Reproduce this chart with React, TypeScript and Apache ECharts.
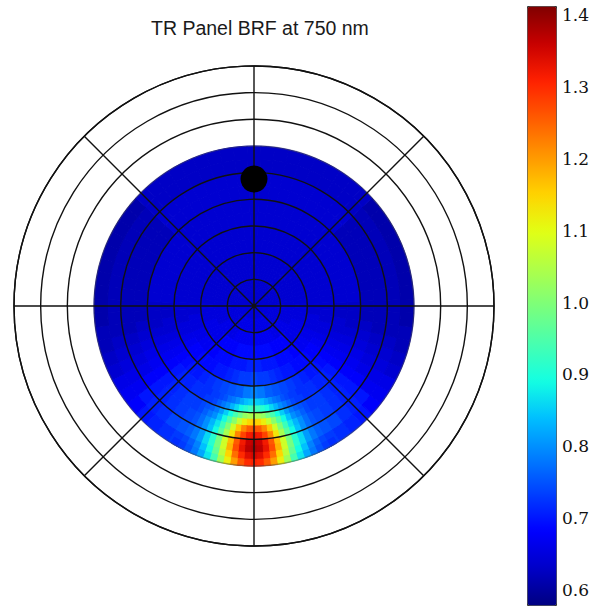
import React, { useEffect, useRef } from "react";
import * as echarts from "echarts";

// Zenith angle (deg) of each ring of cells, 5-degree bins, 0..60
const ZENITH = [2.5, 7.5, 12.5, 17.5, 22.5, 27.5, 32.5, 37.5, 42.5, 47.5, 52.5, 57.5];

// Relative azimuth from the hotspot direction (180 deg = opposite the sun), 5-degree steps.
const REL_AZIMUTH = [
  0, 5, 10, 15, 20, 25, 30, 35, 40, 45, 50, 55, 60, 65, 70, 75, 80, 85, 90,
  95, 100, 105, 110, 115, 120, 125, 130, 135, 140, 145, 150, 155, 160, 165, 170, 175, 180,
];

// BRF values per zenith ring, one value per relative azimuth above
const z02 = [0.65, 0.65, 0.65, 0.65, 0.65, 0.65, 0.65, 0.65, 0.65, 0.65, 0.65, 0.65, 0.65, 0.65, 0.65, 0.65, 0.65, 0.65, 0.65,
  0.64, 0.64, 0.64, 0.64, 0.64, 0.64, 0.64, 0.64, 0.64, 0.64, 0.64, 0.64, 0.64, 0.64, 0.64, 0.64, 0.64, 0.64];
const z07 = [0.66, 0.66, 0.66, 0.66, 0.66, 0.66, 0.66, 0.66, 0.66, 0.65, 0.65, 0.65, 0.65, 0.65, 0.65, 0.65, 0.65, 0.65, 0.65,
  0.64, 0.64, 0.64, 0.64, 0.64, 0.64, 0.64, 0.64, 0.64, 0.64, 0.64, 0.64, 0.64, 0.64, 0.64, 0.64, 0.64, 0.64];
const z12 = [0.67, 0.67, 0.67, 0.67, 0.67, 0.67, 0.67, 0.66, 0.66, 0.66, 0.66, 0.66, 0.66, 0.65, 0.65, 0.65, 0.65, 0.65, 0.65,
  0.64, 0.64, 0.64, 0.64, 0.64, 0.64, 0.64, 0.64, 0.64, 0.64, 0.64, 0.64, 0.64, 0.64, 0.64, 0.64, 0.64, 0.64];
const z17 = [0.69, 0.69, 0.69, 0.69, 0.69, 0.68, 0.68, 0.68, 0.68, 0.68, 0.66, 0.66, 0.66, 0.66, 0.66, 0.65, 0.65, 0.65, 0.65,
  0.64, 0.64, 0.64, 0.64, 0.64, 0.64, 0.64, 0.64, 0.64, 0.64, 0.64, 0.64, 0.64, 0.64, 0.64, 0.64, 0.64, 0.64];
const z22 = [0.71, 0.71, 0.70, 0.70, 0.70, 0.69, 0.69, 0.69, 0.68, 0.68, 0.67, 0.67, 0.66, 0.66, 0.65, 0.65, 0.65, 0.64, 0.64,
  0.64, 0.64, 0.64, 0.64, 0.64, 0.64, 0.64, 0.64, 0.64, 0.64, 0.64, 0.64, 0.64, 0.64, 0.64, 0.64, 0.64, 0.64];
const z27 = [0.74, 0.73, 0.73, 0.72, 0.71, 0.70, 0.70, 0.69, 0.69, 0.69, 0.68, 0.68, 0.67, 0.66, 0.65, 0.65, 0.64, 0.64, 0.64,
  0.64, 0.64, 0.64, 0.64, 0.64, 0.64, 0.64, 0.64, 0.64, 0.64, 0.64, 0.64, 0.64, 0.64, 0.64, 0.64, 0.64, 0.64];
const z32 = [0.79, 0.78, 0.76, 0.75, 0.74, 0.73, 0.72, 0.71, 0.70, 0.70, 0.69, 0.68, 0.67, 0.66, 0.65, 0.64, 0.64, 0.63, 0.63,
  0.64, 0.64, 0.64, 0.64, 0.64, 0.64, 0.64, 0.64, 0.64, 0.64, 0.64, 0.64, 0.64, 0.64, 0.64, 0.64, 0.64, 0.64];
const z37 = [0.88, 0.86, 0.82, 0.78, 0.75, 0.73, 0.72, 0.72, 0.71, 0.71, 0.70, 0.68, 0.67, 0.66, 0.65, 0.64, 0.63, 0.63, 0.63,
  0.64, 0.64, 0.64, 0.64, 0.64, 0.64, 0.64, 0.64, 0.64, 0.64, 0.64, 0.64, 0.64, 0.64, 0.64, 0.64, 0.64, 0.64];
const z42 = [1.07, 1.03, 0.95, 0.86, 0.80, 0.76, 0.73, 0.73, 0.72, 0.71, 0.70, 0.68, 0.67, 0.66, 0.65, 0.64, 0.63, 0.62, 0.62,
  0.62, 0.62, 0.62, 0.62, 0.62, 0.62, 0.62, 0.62, 0.64, 0.64, 0.64, 0.64, 0.64, 0.64, 0.64, 0.64, 0.64, 0.64];
const z47 = [1.29, 1.24, 1.11, 0.95, 0.84, 0.78, 0.74, 0.73, 0.72, 0.71, 0.70, 0.68, 0.66, 0.65, 0.64, 0.63, 0.62, 0.62, 0.62,
  0.62, 0.62, 0.62, 0.62, 0.62, 0.62, 0.62, 0.62, 0.64, 0.64, 0.64, 0.64, 0.64, 0.64, 0.64, 0.64, 0.64, 0.64];
const z52 = [1.37, 1.32, 1.16, 0.97, 0.85, 0.79, 0.75, 0.74, 0.72, 0.71, 0.70, 0.67, 0.66, 0.65, 0.64, 0.63, 0.62, 0.62, 0.62,
  0.62, 0.62, 0.62, 0.62, 0.62, 0.62, 0.62, 0.62, 0.63, 0.63, 0.63, 0.63, 0.63, 0.63, 0.63, 0.63, 0.63, 0.63];
const z57 = [1.32, 1.27, 1.12, 0.93, 0.81, 0.76, 0.73, 0.72, 0.71, 0.70, 0.68, 0.67, 0.66, 0.64, 0.63, 0.62, 0.62, 0.61, 0.61,
  0.61, 0.61, 0.61, 0.61, 0.61, 0.61, 0.61, 0.61, 0.63, 0.63, 0.63, 0.63, 0.63, 0.63, 0.63, 0.63, 0.63, 0.63];

const BRF_ROWS = [z02, z07, z12, z17, z22, z27, z32, z37, z42, z47, z52, z57];

// Finer reading of the hotspot region (2.5-degree cells), zenith 35..60, relative azimuth 0..30
const HOT_ZENITH = [36.25, 38.75, 41.25, 43.75, 46.25, 48.75, 51.25, 53.75, 56.25, 58.75];
const HOT_REL_AZIMUTH = [0, 2.5, 5, 7.5, 10, 12.5, 15, 17.5, 20, 22.5, 25, 27.5, 30];
const h36 = [0.86, 0.85, 0.84, 0.82, 0.80, 0.78, 0.77, 0.75, 0.74, 0.73, 0.73, 0.72, 0.72];
const h38 = [0.94, 0.93, 0.91, 0.89, 0.86, 0.83, 0.80, 0.78, 0.76, 0.74, 0.73, 0.73, 0.72];
const h41 = [1.05, 1.04, 1.02, 0.98, 0.94, 0.89, 0.85, 0.81, 0.78, 0.76, 0.75, 0.74, 0.73];
const h43 = [1.16, 1.15, 1.12, 1.07, 1.01, 0.95, 0.89, 0.84, 0.80, 0.78, 0.76, 0.74, 0.73];
const h46 = [1.27, 1.26, 1.22, 1.16, 1.08, 1.00, 0.93, 0.87, 0.83, 0.80, 0.77, 0.75, 0.74];
const h48 = [1.33, 1.32, 1.28, 1.22, 1.13, 1.04, 0.96, 0.89, 0.84, 0.80, 0.77, 0.75, 0.74];
const h51 = [1.37, 1.36, 1.32, 1.26, 1.17, 1.08, 0.99, 0.91, 0.86, 0.81, 0.78, 0.76, 0.75];
const h53 = [1.38, 1.37, 1.33, 1.27, 1.18, 1.08, 0.99, 0.91, 0.86, 0.81, 0.78, 0.76, 0.75];
const h56 = [1.35, 1.34, 1.30, 1.24, 1.15, 1.06, 0.97, 0.89, 0.84, 0.79, 0.76, 0.74, 0.73];
const h58 = [1.31, 1.30, 1.26, 1.20, 1.12, 1.03, 0.94, 0.87, 0.82, 0.78, 0.75, 0.73, 0.72];
const HOT_ROWS = [h36, h38, h41, h43, h46, h48, h51, h53, h56, h58];

// Sun position: [zenith, azimuth]
const SUN = [47.6, 0];

// Colour bar range and jet colour map
const CB_MIN = 0.579;
const CB_MAX = 1.4125;
const JET = [
  "#000080", "#0000c8", "#0000ff", "#0040ff", "#0080ff", "#00bfff", "#14ffe2", "#48ffaf",
  "#7bff7b", "#afff48", "#e2ff14", "#ffd200", "#ff9700", "#ff5c00", "#ff2100", "#c80000", "#800000",
];

const TITLE = "TR Panel BRF at 750 nm";

function buildCells(zen: number[], rel: number[], rows: number[][]) {
  const out: number[][] = [];
  zen.forEach((z, i) => {
    const row = rows[i];
    rel.forEach((phi, j) => {
      const v = row[j];
      out.push([z, 180 - phi, v]);
      if (phi > 0 && phi < 180) out.push([z, 180 + phi, v]);
    });
  });
  return out;
}

function makeRenderItem(zStep: number, aStep: number) {
  return (params: any, api: any) => {
    const zen = api.value(0);
    const az = api.value(1);
    const cs = params.coordSys;
    const cx = cs.cx;
    const cy = cs.cy;
    const pIn = api.coord([Math.max(0, zen - zStep / 2), az]);
    const pOut = api.coord([zen + zStep / 2, az]);
    const r0 = Math.hypot(pIn[0] - cx, pIn[1] - cy);
    const r = Math.hypot(pOut[0] - cx, pOut[1] - cy);
    const pa = api.coord([zen + zStep / 2, az - aStep / 2]);
    const pb = api.coord([zen + zStep / 2, az + aStep / 2]);
    const a0 = Math.atan2(pa[1] - cy, pa[0] - cx);
    let a1 = Math.atan2(pb[1] - cy, pb[0] - cx);
    if (a1 < a0) a1 += Math.PI * 2;
    const color = api.visual("color");
    return {
      type: "sector",
      shape: { cx, cy, r0, r, startAngle: a0, endAngle: a1, clockwise: true },
      style: { fill: color, stroke: color, lineWidth: 1 },
    };
  };
}

export default function App() {
  const ref = useRef<HTMLDivElement>(null);
  useEffect(() => {
    if (!ref.current) return;
    const chart = echarts.init(ref.current, undefined, { renderer: "svg" });
    const gridColor = "#111111";
    const ringColors = [gridColor, gridColor, gridColor, gridColor, gridColor, gridColor,
      "rgba(70,70,70,0.45)", gridColor, gridColor, gridColor];
    const option: any = {
      animation: false,
      backgroundColor: "#ffffff",
      title: {
        text: TITLE,
        left: 151,
        top: 18,
        padding: 0,
        textStyle: { fontFamily: "Liberation Sans", fontSize: 19.5, fontWeight: "normal", color: "#1a1a1a" },
      },
      polar: { center: [254, 306], radius: 240 },
      angleAxis: {
        type: "value",
        min: 0,
        max: 360,
        interval: 45,
        startAngle: 90,
        clockwise: true,
        z: 5,
        axisLine: { show: true, lineStyle: { color: gridColor, width: 1.4 } },
        axisTick: { show: false },
        axisLabel: { show: false },
        splitLine: { show: true, lineStyle: { color: gridColor, width: 1.4 } },
      },
      radiusAxis: {
        type: "value",
        min: 0,
        max: 90,
        interval: 10,
        z: 5,
        axisLine: { show: false },
        axisTick: { show: false },
        axisLabel: { show: false },
        splitLine: { show: true, lineStyle: { color: ringColors, width: 1.4 } },
      },
      grid: { left: 527, top: 15, width: 29, height: 575, show: false },
      xAxis: { type: "value", show: false, min: 0, max: 1 },
      yAxis: {
        type: "value",
        position: "right",
        min: 0.6,
        max: 1.4,
        interval: 0.1,
        axisLine: { show: false },
        axisTick: { show: true, length: 4, lineStyle: { color: "#222", width: 1 } },
        splitLine: { show: false },
        axisLabel: {
          show: true,
          margin: 6,
          fontFamily: "DejaVu Serif",
          fontSize: 17,
          color: "#111",
          formatter: (v: number) => Number(v).toFixed(1),
        },
      },
      visualMap: {
        type: "continuous",
        min: CB_MIN,
        max: CB_MAX,
        dimension: 2,
        seriesIndex: [0, 1],
        left: 527,
        top: 6,
        itemWidth: 29,
        itemHeight: 599,
        padding: 0,
        calculable: false,
        hoverLink: false,
        borderColor: "#333",
        borderWidth: 1,
        inRange: { color: JET },
      },
      series: [
        {
          type: "custom",
          coordinateSystem: "polar",
          z: 2,
          encode: { radius: 0, angle: 1 },
          data: buildCells(ZENITH, REL_AZIMUTH, BRF_ROWS),
          renderItem: makeRenderItem(5, 5),
        },
        {
          type: "custom",
          coordinateSystem: "polar",
          z: 3,
          encode: { radius: 0, angle: 1 },
          data: buildCells(HOT_ZENITH, HOT_REL_AZIMUTH, HOT_ROWS),
          renderItem: makeRenderItem(2.5, 2.5),
        },
        {
          type: "scatter",
          coordinateSystem: "polar",
          z: 10,
          symbol: "circle",
          symbolSize: 27,
          itemStyle: { color: "#000000", opacity: 1 },
          data: [SUN],
        },
        {
          type: "line",
          xAxisIndex: 0,
          yAxisIndex: 0,
          data: [],
        },
      ],
    };
    chart.setOption(option);
    return () => chart.dispose();
  }, []);
  return <div ref={ref} style={{ position: "fixed", left: 0, top: 0, width: 596, height: 607 }} />;
}
